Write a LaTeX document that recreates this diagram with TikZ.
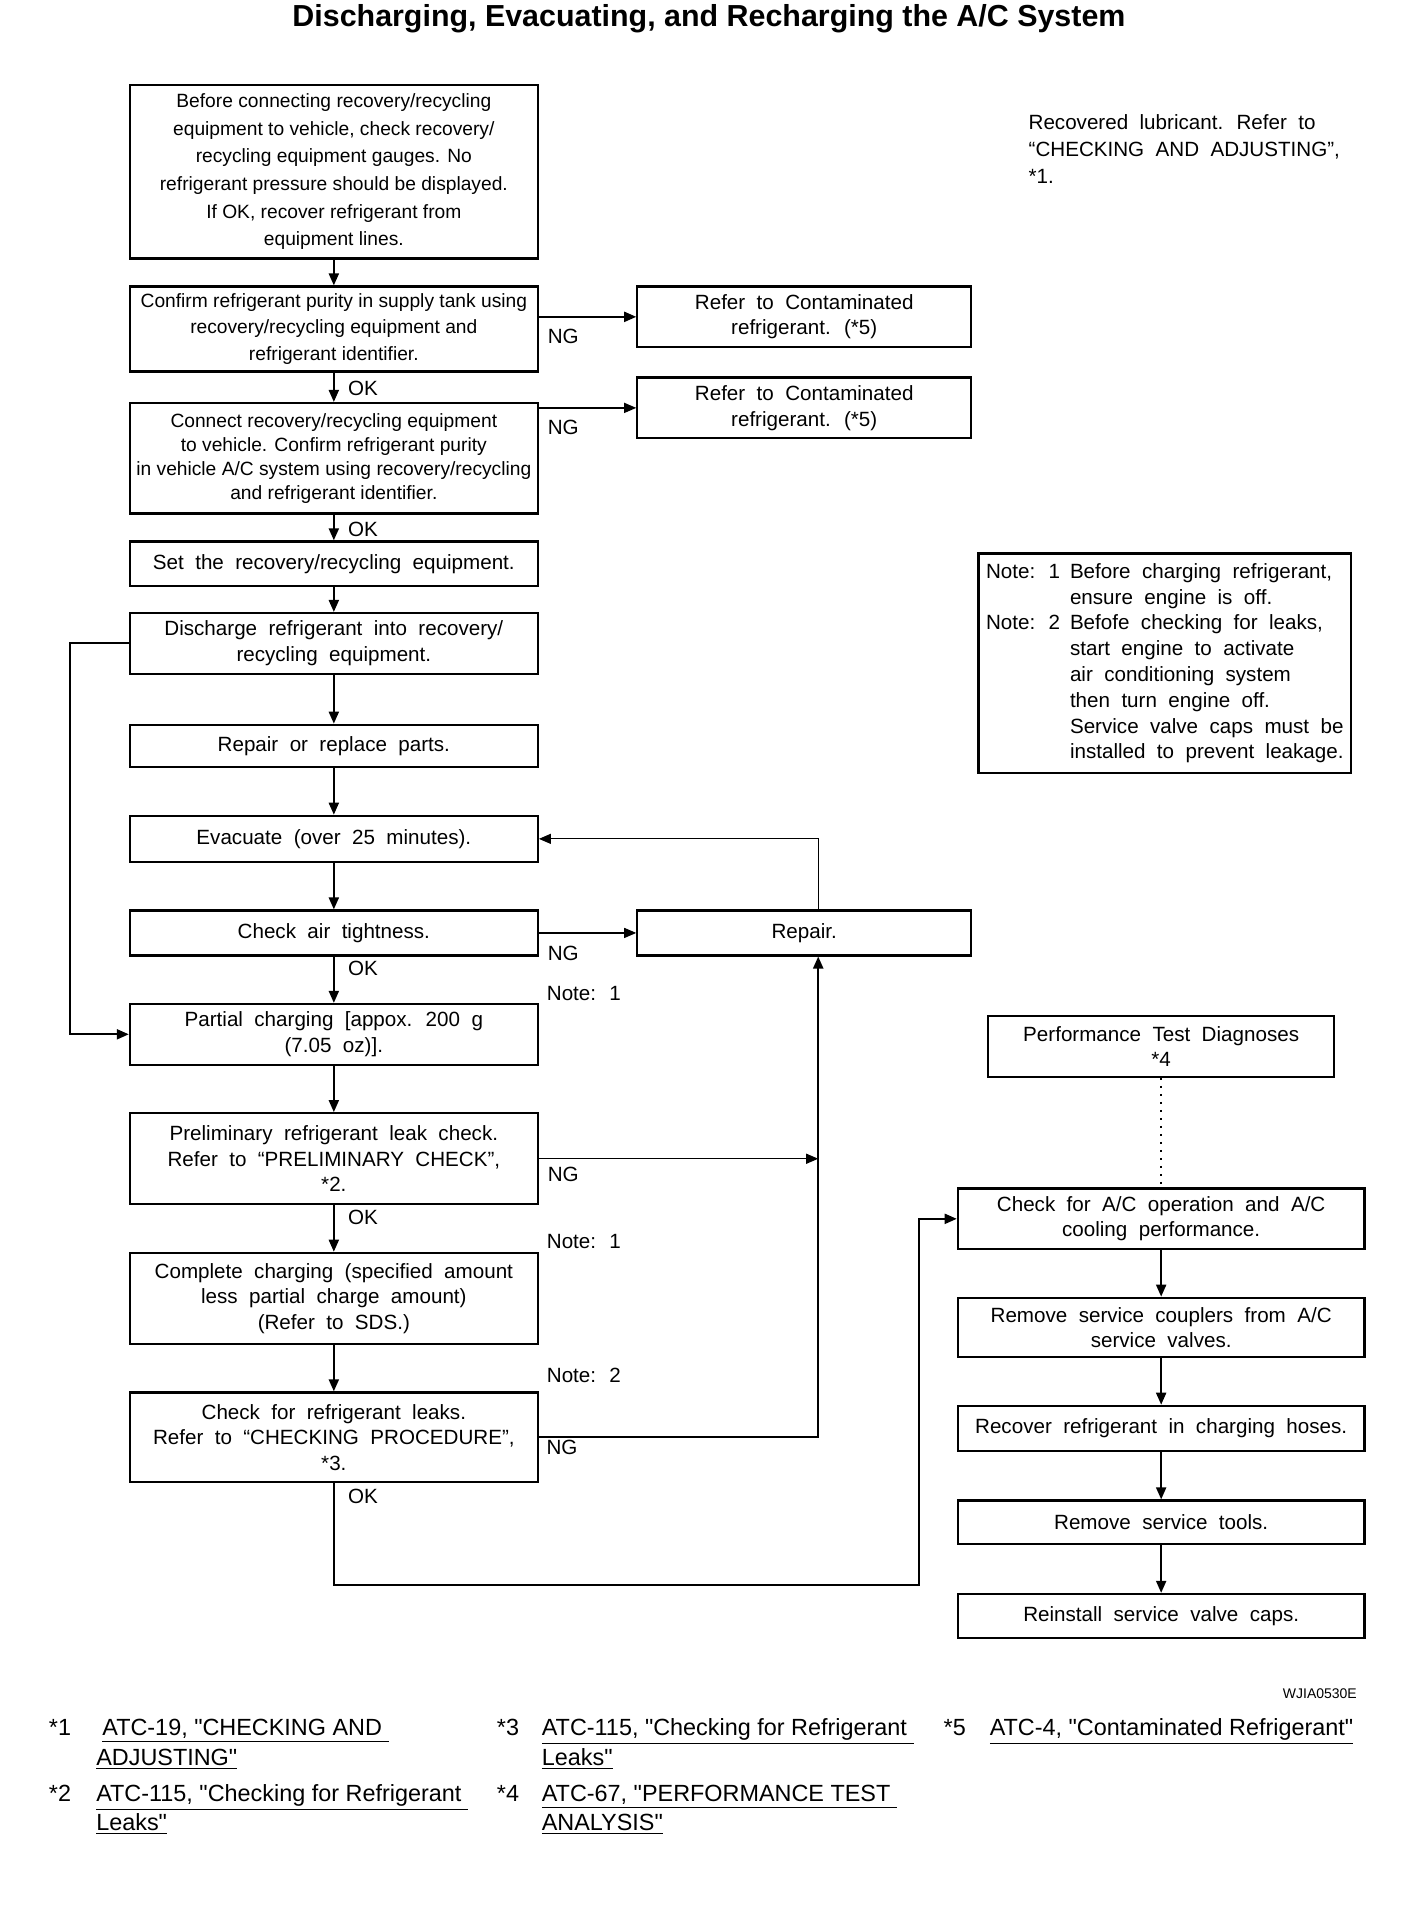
\documentclass[tikz,border=0pt]{standalone}
\usepackage{fontspec}
\setmainfont{Liberation Sans}
\newfontfamily\fnfont{Liberation Sans}[Ligatures=TeXOff]
\newcommand\widesp{\spaceskip=5.7pt plus 2pt minus 1pt\relax}
\usetikzlibrary{arrows.meta}
\begin{document}
\begin{tikzpicture}[x=0.60685pt,y=-0.60685pt,
  box/.style={draw, line width=1.1pt, inner sep=0pt, align=center},
  sz/.style 2 args={minimum width=#1*0.60685pt, minimum height=#2*0.60685pt},
  nf/.style={font=\fontsize{9.6}{13.3}\selectfont},
  wf/.style={font=\fontsize{10.3}{12.8}\selectfont\widesp},
  con/.style={line width=1pt, -{Triangle[length=6pt,width=5pt]}},
  lite/.style={line width=0.6pt},
  lbl/.style={font=\fontsize{10.3}{12.8}\selectfont\widesp, inner sep=0pt},
  fn/.style={font=\fnfont\fontsize{11.7}{14}\selectfont, anchor=base west, inner sep=0pt},
]
\path[use as bounding box] (0,0) rectangle (1160,1575);

\node[font=\bfseries\fontsize{15.2}{18}\selectfont, inner sep=0pt] (title) at (584,15) {Discharging, Evacuating, and Recharging the A/C System};

% left column
\node[box,sz={336}{143},font=\fontsize{9.6}{13.8}\selectfont] (b1) at (275,141.5) {Before connecting recovery/recycling\\ equipment to vehicle, check recovery/\\ recycling equipment gauges. No\\ refrigerant pressure should be displayed.\\ If OK, recover refrigerant from\\ equipment lines.};
\node[box,nf,sz={336}{70}] (b2) at (275,271) {Confirm refrigerant purity in supply tank using\\ recovery/recycling equipment and\\ refrigerant identifier.};
\node[box,sz={336}{91},font=\fontsize{9.6}{12}\selectfont] (b3) at (275,377.5) {Connect recovery/recycling equipment\\ to vehicle. Confirm refrigerant purity\\ in vehicle A/C system using recovery/recycling\\ and refrigerant identifier.};
\node[box,wf,sz={336}{37}] (b4) at (275,464.5) {Set the recovery/recycling equipment.};
\node[box,wf,sz={336}{50}] (b5) at (275,530) {Discharge refrigerant into recovery/\\ recycling equipment.};
\node[box,wf,sz={336}{35}] (b6) at (275,614.5) {Repair or replace parts.};
\node[box,wf,sz={336}{38}] (b7) at (275,691) {Evacuate (over 25 minutes).};
\node[box,wf,sz={336}{37}] (b8) at (275,768.5) {Check air tightness.};
\node[box,wf,sz={336}{50}] (b9) at (275,852) {Partial charging [appox. 200 g\\ (7.05 oz)].};
\node[box,wf,sz={336}{75}] (b10) at (275,954.5) {Preliminary refrigerant leak check.\\ Refer to “PRELIMINARY CHECK”,\\ *2.};
\node[box,wf,sz={336}{75}] (b11) at (275,1069.5) {Complete charging (specified amount\\ less partial charge amount)\\ (Refer to SDS.)};
\node[box,wf,sz={336}{74}] (b12) at (275,1184) {Check for refrigerant leaks.\\ Refer to “CHECKING PROCEDURE”,\\ *3.};

% middle column
\node[box,wf,sz={275}{50}] (r1) at (662.5,261) {Refer to Contaminated\\ refrigerant. (*5)};
\node[box,wf,sz={275}{50}] (r2) at (662.5,336) {Refer to Contaminated\\ refrigerant. (*5)};
\node[box,wf,sz={275}{37}] (rep) at (662.5,768.5) {Repair.};

% right column
\node[anchor=north west, inner sep=0pt, align=left, font=\fontsize{10.3}{13.4}\selectfont\widesp] (rec) at (847,94) {Recovered lubricant. Refer to\\ “CHECKING AND ADJUSTING”,\\ *1.};
\node[box,sz={307}{181},font=\fontsize{10.3}{12.9}\selectfont\widesp] (note) at (959.5,546.5) {\begin{tabular}{@{}l@{\hspace{5pt}}l@{}}
Note: 1 & Before charging refrigerant,\\
 & ensure engine is off.\\
Note: 2 & Befofe checking for leaks,\\
 & start engine to activate\\
 & air conditioning system\\
 & then turn engine off.\\
 & Service valve caps must be\\
 & installed to prevent leakage.
\end{tabular}};
\node[box,wf,sz={285}{50}] (perf) at (956.5,862) {Performance Test Diagnoses\\ *4};
\node[box,wf,sz={335}{50}] (c1) at (956.5,1004) {Check for A/C operation and A/C\\ cooling performance.};
\node[box,wf,sz={335}{49}] (c2) at (956.5,1093.5) {Remove service couplers from A/C\\ service valves.};
\node[box,wf,sz={335}{37}] (c3) at (956.5,1176.5) {Recover refrigerant in charging hoses.};
\node[box,wf,sz={335}{36}] (c4) at (956.5,1254) {Remove service tools.};
\node[box,wf,sz={335}{36}] (c5) at (956.5,1331) {Reinstall service valve caps.};

% connectors
\draw[con] (b1) -- (b2);
\draw[con] (b2) -- (b3);
\draw[con] (b3) -- (b4);
\draw[con] (b4) -- (b5);
\draw[con] (b5) -- (b6);
\draw[con] (b6) -- (b7);
\draw[con] (b7) -- (b8);
\draw[con] (b8) -- (b9);
\draw[con] (b9) -- (b10);
\draw[con] (b10) -- (b11);
\draw[con] (b11) -- (b12);
\draw[con] (b2.east |- r1) -- (r1.west);
\draw[con,lite] (b3.east |- r2) -- (r2.west);
\draw[con,lite] (b8) -- (rep);
\coordinate (vx) at (674,0);
\draw[con,lite] (vx |- rep.north) -- (vx |- b7.east) -- (b7.east);
\draw[con,lite] (b10.east) -- (vx |- b10.east);
\draw[con] (b12.east) -- (vx |- b12.east) -- (vx |- rep.south);
\coordinate (lx) at (58,0);
\draw[con] (b5.west) -- (lx |- b5.west) -- (lx |- b9.west) -- (b9.west);
\coordinate (lp) at (757,1306);
\draw[con] (b12.south) -- (b12.south |- lp) -- (lp) -- (lp |- c1.west) -- (c1.west);
\draw[line width=1pt, dash pattern=on 1pt off 3pt] (perf) -- (c1);
\draw[con] (c1) -- (c2);
\draw[con] (c2) -- (c3);
\draw[con] (c3) -- (c4);
\draw[con] (c4) -- (c5);

% labels
\node[lbl] (ng1) at (464,277) {NG};
\node[lbl] (ng2) at (464,352) {NG};
\node[lbl] (ng3) at (464,785) {NG};
\node[lbl] (ng4) at (464,967) {NG};
\node[lbl] (ng5) at (463,1192) {NG};
\node[lbl] (ok1) at (299,320) {OK};
\node[lbl] (ok2) at (299,436) {OK};
\node[lbl] (ok3) at (299,798) {OK};
\node[lbl] (ok4) at (299,1003) {OK};
\node[lbl] (ok5) at (299,1233) {OK};
\node[lbl] (n1) at (481,818) {Note: 1};
\node[lbl] (n2) at (481,1023) {Note: 1};
\node[lbl] (n3) at (481,1133) {Note: 2};

% footer
\node[font=\fontsize{7}{8}\selectfont, anchor=east, inner sep=0pt] (code) at (1118,1395) {WJIA0530E};
\node[fn] (s1) at (40,1430) {*1};
\node[fn] (f1a) at (84,1430) {\underline{ATC-19, "CHECKING AND }};
\node[fn] (f1b) at (79,1454) {\underline{ADJUSTING"}};
\node[fn] (s3) at (409,1430) {*3};
\node[fn] (f3a) at (446,1430) {\underline{ATC-115, "Checking for Refrigerant }};
\node[fn] (f3b) at (446,1454) {\underline{Leaks"}};
\node[fn] (s5) at (777,1430) {*5};
\node[fn] (f5a) at (815,1430) {\underline{ATC-4, "Contaminated Refrigerant"}};
\node[fn] (s2) at (40,1484) {*2};
\node[fn] (f2a) at (79,1484) {\underline{ATC-115, "Checking for Refrigerant }};
\node[fn] (f2b) at (79,1508) {\underline{Leaks"}};
\node[fn] (s4) at (409,1484) {*4};
\node[fn] (f4a) at (446,1484) {\underline{ATC-67, "PERFORMANCE TEST }};
\node[fn] (f4b) at (446,1508) {\underline{ANALYSIS"}};
\end{tikzpicture}
\end{document}
